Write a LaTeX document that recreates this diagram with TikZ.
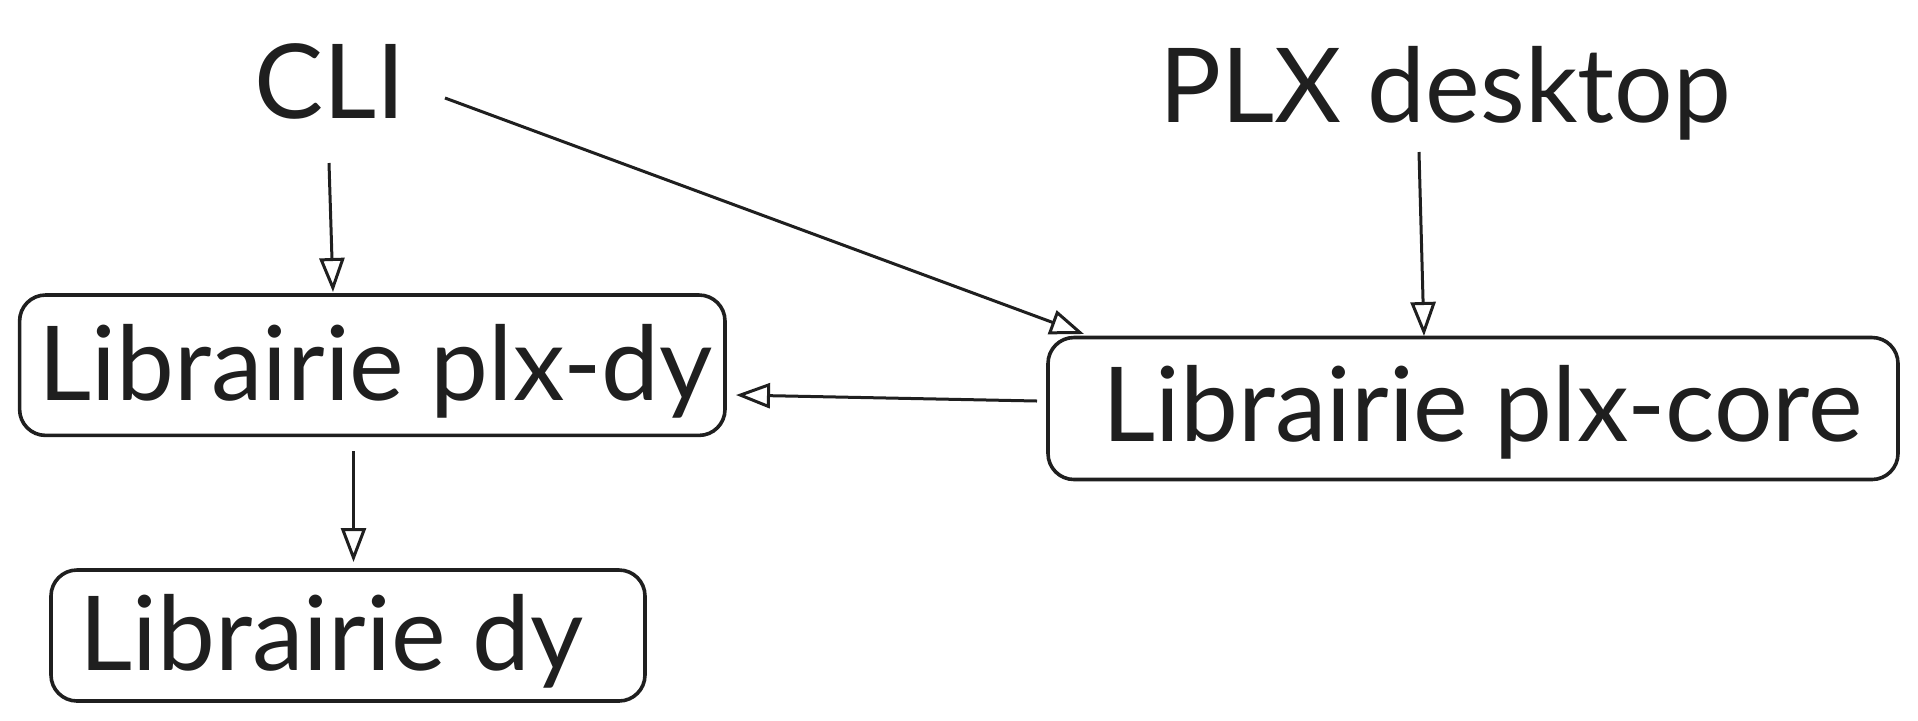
\documentclass[tikz,border=0pt]{standalone}
\usepackage{fontspec}
\setmainfont{Lato}
\usetikzlibrary{arrows.meta}
\begin{document}
\begin{tikzpicture}[x=0.5pt,y=-0.5pt,
  box/.style={draw=black!88,line width=1.8pt,rounded corners=13pt,inner sep=0pt},
  lbl/.style={anchor=base,inner sep=0pt,text=black!88,font=\fontsize{51.7}{60}\selectfont},
  arr/.style={draw=black!88,line width=1.5pt,-{Triangle[open,length=17pt,width=12.5pt,line width=1.5pt]}}]
\useasboundingbox (0,0) rectangle (1918,720);
\node[box,minimum width=352.7pt,minimum height=70.2pt] (pdy) at (372.3,365.2) {};
\node[box,minimum width=297pt,minimum height=65.5pt] (dy) at (348,635.5) {};
\node[box,minimum width=425pt,minimum height=71pt] (core) at (1473,408.5) {};
\node[lbl] (cli) at (330,118.7) {CLI};
\node[lbl] (plx) at (1445,122) {PLX desktop};
\node[lbl] (tpdy) at (375.5,400) {Librairie plx-dy};
\node[lbl] (tdy) at (331.5,670) {Librairie dy};
\node[lbl] (tcore) at (1482.5,441.6) {Librairie plx-core};
\coordinate (c1) at (329,163);
\coordinate (c2) at (445,98);
\coordinate (p1) at (1419,152);
\coordinate (k1) at (1037,401);
\coordinate (d1) at (353.5,451);
\coordinate (e1) at (333,292);
\coordinate (e2) at (1084,334);
\coordinate (e3) at (1424,336);
\coordinate (e4) at (736,395);
\coordinate (e5) at (353.5,562);
\draw[arr] (c1) -- (e1);
\draw[arr] (c2) -- (e2);
\draw[arr] (p1) -- (e3);
\draw[arr] (k1) -- (e4);
\draw[arr] (d1) -- (e5);
\end{tikzpicture}
\end{document}
